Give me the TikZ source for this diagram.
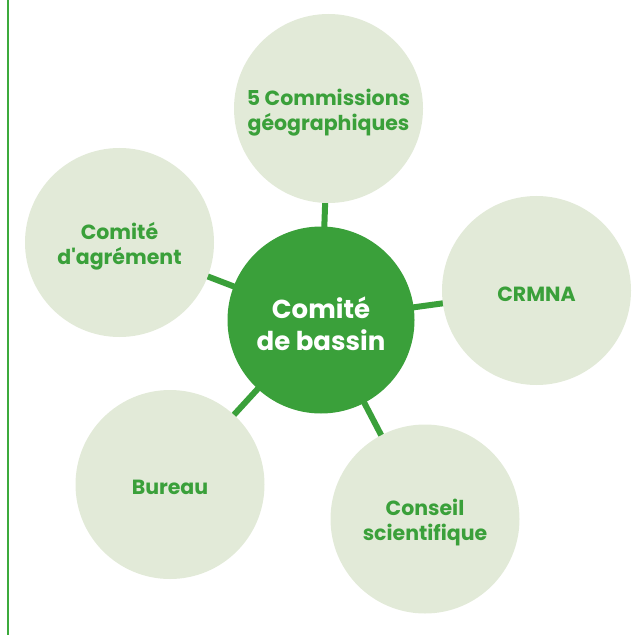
\documentclass[tikz,border=0pt]{standalone}
\usepackage{fontspec}
\setmainfont{Poppins}
\usetikzlibrary{backgrounds}
\definecolor{dkgreen}{RGB}{58,160,58}
\definecolor{ltgreen}{RGB}{226,234,216}
\definecolor{rulegreen}{RGB}{60,170,60}
\begin{document}
\begin{tikzpicture}[x=1pt,y=-1pt,
  outer/.style={circle,fill=ltgreen,inner sep=0pt,minimum size=189pt},
  hub/.style={circle,fill=dkgreen,inner sep=0pt,minimum size=187pt},
  outertext/.style={text=dkgreen,font=\fontsize{20.5}{25}\selectfont\bfseries,align=center,inner sep=0pt},
  hubtext/.style={text=white,font=\fontsize{26}{32}\selectfont\bfseries,align=center,inner sep=0pt},
  link/.style={draw=dkgreen,line width=6pt}]
\useasboundingbox (0,0) rectangle (636,636);
\draw[rulegreen,line width=1.5pt] (8,0) -- (8,635);
\node[hub] (c) at (321,320) {};
\node[outer] (t) at (328.5,108.5) {};
\node[outer] (r) at (536.5,290.5) {};
\node[outer] (s) at (425,519) {};
\node[outer] (b) at (170,484.5) {};
\node[outer] (a) at (119.5,242.5) {};
\node[hubtext] (cl) at ([yshift=-4pt]c.center) {Comité\\de bassin};
\node[outertext] (tl) at ([yshift=-4pt]t.center) {5 Commissions\\géographiques};
\node[outertext] (rl) at ([yshift=-4pt]r.center) {CRMNA};
\node[outertext] (sl) at ([yshift=-4pt]s.center) {Conseil\\scientifique};
\node[outertext] (bl) at ([yshift=-3pt]b.center) {Bureau};
\node[outertext] (al) at ([yshift=-4pt]a.center) {Comité\\d\textquotesingle agrément};
\begin{scope}[on background layer]
\draw[link] (c.center) -- (t.center);
\draw[link] (c.center) -- (r.center);
\draw[link] (c.center) -- (s.center);
\draw[link] (c.center) -- (b.center);
\draw[link] (c.center) -- (a.center);
\end{scope}
\end{tikzpicture}
\end{document}
